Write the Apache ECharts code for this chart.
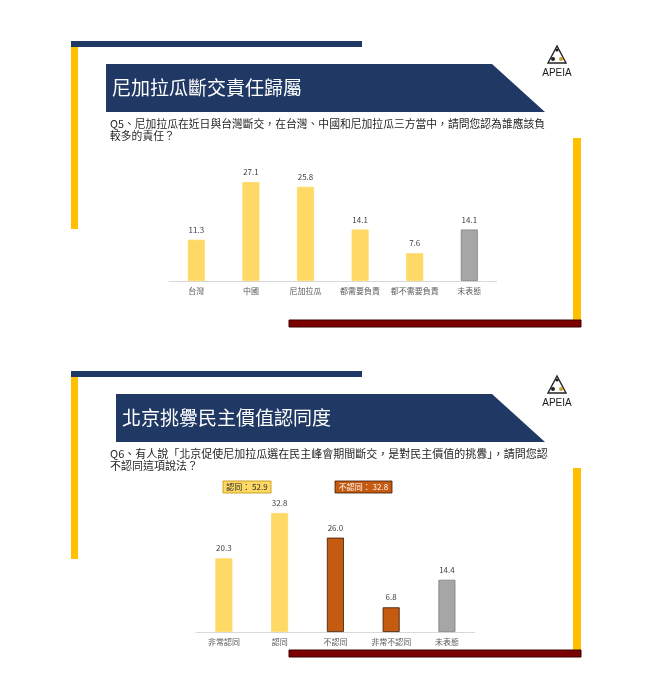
<!DOCTYPE html>
<html>
<head>
<meta charset="utf-8">
<script src="https://cdn.jsdelivr.net/npm/echarts@6/dist/echarts.min.js"></script>
<style>
html,body{margin:0;padding:0;background:#fff;}
#main{width:656px;height:675px;}
</style>
</head>
<body>
<div id="main"></div>
<script>
// ---- data ----
var titles = ['尼加拉瓜斷交責任歸屬', '北京挑釁民主價值認同度'];
var questions1 = ['Q5、尼加拉瓜在近日與台灣斷交，在台灣、中國和尼加拉瓜三方當中，請問您認為誰應該負', '較多的責任？'];
var questions2 = ['Q6、有人說「北京促使尼加拉瓜選在民主峰會期間斷交，是對民主價值的挑釁」，請問您認', '不認同這項說法？'];
var categories1 = ['台灣', '中國', '尼加拉瓜', '都需要負責', '都不需要負責', '未表態'];
var values1 = [11.3, 27.1, 25.8, 14.1, 7.6, 14.1];
var categories2 = ['非常認同', '認同', '不認同', '非常不認同', '未表態'];
var values2 = [20.3, 32.8, 26.0, 6.8, 14.4];
var summaryLabels = ['認同', '不認同'];
var summaryValues = [52.9, 32.8];
var neutralCats = ['未表態'];
var disagreeCats = ['不認同', '非常不認同'];

var FONT = '"Noto Sans CJK TC", "Noto Sans", sans-serif';
var C = {
  navy: '#1f3864', gold: '#ffc000', red: '#7b0000',
  yellow: '#ffd966', orange: '#c55a11', gray: '#a6a6a6'
};

function barColor(name) {
  if (neutralCats.indexOf(name) >= 0) return C.gray;
  if (disagreeCats.indexOf(name) >= 0) return C.orange;
  return C.yellow;
}
function barBorder(name) {
  if (neutralCats.indexOf(name) >= 0) return '#7f7f7f';
  if (disagreeCats.indexOf(name) >= 0) return '#3a1a05';
  return C.yellow;
}

function slideDecor(dy, titleX, title, qLines, qSize) {
  var g = [];
  g.push({type:'rect', shape:{x:71, y:41+dy, width:291, height:6}, style:{fill:C.navy}});
  g.push({type:'rect', shape:{x:71, y:47+dy, width:7, height:182}, style:{fill:C.gold}});
  g.push({type:'rect', shape:{x:573, y:138+dy, width:8, height:182}, style:{fill:C.gold}});
  g.push({type:'rect', shape:{x:289, y:320+dy, width:292, height:7}, style:{fill:C.red, stroke:'#3d0000', lineWidth:1}});
  g.push({type:'polygon', shape:{points:[[titleX,64+dy],[492,64+dy],[545,112+dy],[titleX,112+dy]]}, style:{fill:C.navy}});
  g.push({type:'text', x:titleX+6, y:88+dy, style:{text:title, fill:'#ffffff', font:'19px '+FONT, verticalAlign:'middle'}});
  g.push({type:'text', x:110, y:124+dy, style:{text:qLines[0], fill:'#262626', font:qSize+'px '+FONT, verticalAlign:'middle'}});
  g.push({type:'text', x:110, y:136+dy, style:{text:qLines[1], fill:'#262626', font:qSize+'px '+FONT, verticalAlign:'middle'}});
  g.push({type:'polygon', shape:{points:[[557,46+dy],[548,63+dy],[566,63+dy]]}, style:{fill:'none', stroke:'#222', lineWidth:1.4}});
  g.push({type:'circle', shape:{cx:553, cy:59+dy, r:2}, style:{fill:'#222'}});
  g.push({type:'circle', shape:{cx:561, cy:59+dy, r:2}, style:{fill:'#c9a227'}});
  g.push({type:'circle', shape:{cx:557, cy:50+dy, r:1.6}, style:{fill:'#222'}});
  g.push({type:'text', x:557, y:73+dy, style:{text:'APEIA', fill:'#1a1a1a', font:'10px "Liberation Sans", sans-serif', align:'center', verticalAlign:'middle'}});
  return g;
}

var graphics = [].concat(
  slideDecor(0, 106, titles[0], questions1, 10.8),
  slideDecor(330, 116, titles[1], questions2, 11)
);
graphics.push({type:'rect', shape:{x:223, y:481, width:48, height:12}, style:{fill:C.yellow, stroke:'#bf9000', lineWidth:0.8}});
graphics.push({type:'text', x:247, y:487, style:{text:summaryLabels[0]+'： '+summaryValues[0].toFixed(1), fill:'#262626', font:'8px '+FONT, align:'center', verticalAlign:'middle'}});
graphics.push({type:'rect', shape:{x:335, y:481, width:57, height:12}, style:{fill:C.orange, stroke:'#3a1a05', lineWidth:0.8}});
graphics.push({type:'text', x:363.5, y:487, style:{text:summaryLabels[1]+'： '+summaryValues[1].toFixed(1), fill:'#ffffff', font:'8px '+FONT, align:'center', verticalAlign:'middle'}});

function mkData(cats, vals) {
  return vals.map(function (v, i) {
    return {value: v, itemStyle: {color: barColor(cats[i]), borderColor: barBorder(cats[i]), borderWidth: 0.8}};
  });
}

var axisCommon = {
  type: 'category',
  axisLine: {lineStyle: {color: '#d9d9d9', width: 1}},
  axisTick: {show: false},
  axisLabel: {color: '#595959', fontSize: 8, fontFamily: FONT, margin: 6, interval: 0}
};
var yCommon = {type: 'value', min: 0, show: false, splitLine: {show: false}};
var labelCommon = {
  show: true, position: 'top', distance: 6, color: '#404040', fontSize: 8, fontFamily: FONT,
  formatter: function (p) { return p.value.toFixed(1); }
};

var option = {
  animation: false,
  backgroundColor: '#ffffff',
  grid: [
    {left: 169, top: 171.5, width: 327.6, height: 109.5},
    {left: 196, top: 505, width: 278.8, height: 127}
  ],
  xAxis: [
    Object.assign({}, axisCommon, {gridIndex: 0, data: categories1}),
    Object.assign({}, axisCommon, {gridIndex: 1, data: categories2})
  ],
  yAxis: [
    Object.assign({}, yCommon, {gridIndex: 0, max: 30}),
    Object.assign({}, yCommon, {gridIndex: 1, max: 35})
  ],
  series: [
    {type: 'bar', xAxisIndex: 0, yAxisIndex: 0, barWidth: 17, data: mkData(categories1, values1), label: labelCommon},
    {type: 'bar', xAxisIndex: 1, yAxisIndex: 1, barWidth: 17, data: mkData(categories2, values2), label: labelCommon}
  ],
  graphic: graphics
};

var chart = echarts.init(document.getElementById('main'), null, {renderer: 'canvas'});
chart.setOption(option);
</script>
</body>
</html>
